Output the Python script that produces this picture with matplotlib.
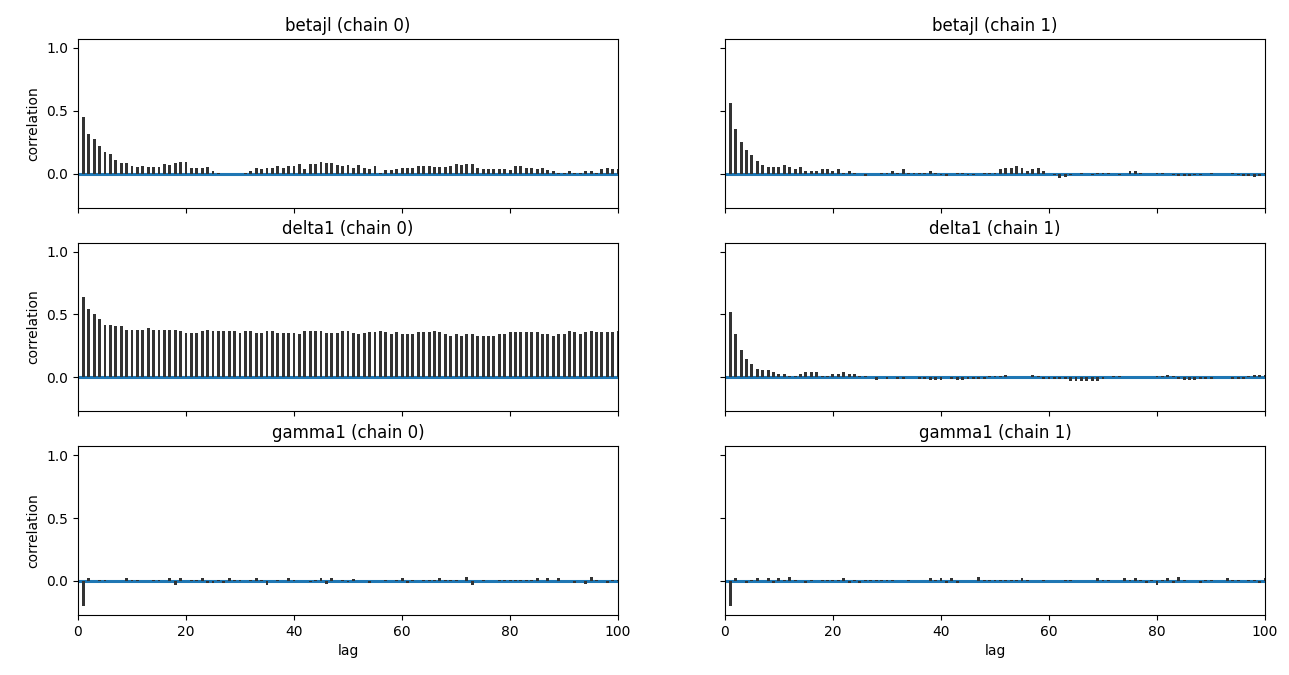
import numpy as np
import matplotlib
matplotlib.use("Agg")
import matplotlib.pyplot as plt

# autocorrelation per lag (lags 1..100)
lags = np.arange(1, 101)

betajl_c0 = [0.45, 0.32, 0.28, 0.225, 0.17, 0.155, 0.11, 0.085, 0.085, 0.065,
             0.055, 0.065, 0.055, 0.055, 0.055, 0.08, 0.07, 0.085, 0.095, 0.095,
             0.045, 0.045, 0.045, 0.055, 0.025, 0.01, 0.0, 0.0, 0.0, 0.0,
             0.01, 0.025, 0.05, 0.035, 0.05, 0.05, 0.06, 0.05, 0.065, 0.065,
             0.08, 0.04, 0.08, 0.08, 0.095, 0.085, 0.085, 0.07, 0.06, 0.07,
             0.05, 0.07, 0.05, 0.04, 0.06, 0.01, 0.03, 0.03, 0.04, 0.05,
             0.05, 0.05, 0.065, 0.065, 0.065, 0.055, 0.055, 0.055, 0.06, 0.08,
             0.07, 0.08, 0.08, 0.045, 0.04, 0.04, 0.04, 0.04, 0.04, 0.03,
             0.06, 0.06, 0.05, 0.05, 0.04, 0.045, 0.03, 0.02, 0.01, 0.01,
             0.02, 0.01, 0.01, 0.02, 0.02, 0.01, 0.04, 0.045, 0.04, 0.04]

betajl_c1 = [0.56, 0.36, 0.25, 0.19, 0.15, 0.10, 0.07, 0.055, 0.055, 0.055,
             0.07, 0.055, 0.04, 0.055, 0.025, 0.025, 0.025, 0.04, 0.04, 0.025,
             0.04, 0.01, 0.025, 0.01, 0.0, -0.015, 0.0, 0.0, 0.01, 0.01,
             0.025, 0.01, 0.04, 0.01, 0.01, 0.01, 0.01, 0.025, 0.01, -0.01,
             -0.015, 0.0, 0.01, 0.01, -0.01, -0.01, 0.0, 0.01, 0.01, 0.01,
             0.035, 0.045, 0.05, 0.065, 0.05, 0.025, 0.04, 0.05, 0.025, 0.0,
             -0.01, -0.03, -0.025, -0.01, 0.0, 0.01, 0.0, -0.01, 0.01, 0.01,
             0.01, 0.0, -0.01, 0.0, 0.025, 0.025, 0.01, 0.0, 0.0, 0.01,
             0.01, 0.0, -0.01, -0.02, -0.02, -0.02, -0.01, -0.01, 0.0, 0.01,
             0.0, 0.0, 0.0, 0.01, -0.01, -0.02, -0.02, -0.025, -0.015, 0.01]

delta1_c0 = [0.64, 0.545, 0.505, 0.465, 0.42, 0.42, 0.41, 0.41, 0.38, 0.38,
             0.38, 0.38, 0.395, 0.38, 0.38, 0.38, 0.38, 0.38, 0.37, 0.355,
             0.355, 0.355, 0.37, 0.38, 0.37, 0.37, 0.37, 0.37, 0.37, 0.355,
             0.37, 0.37, 0.355, 0.355, 0.37, 0.37, 0.355, 0.355, 0.355, 0.355,
             0.345, 0.37, 0.37, 0.37, 0.37, 0.355, 0.355, 0.355, 0.37, 0.37,
             0.35, 0.345, 0.35, 0.358, 0.358, 0.371, 0.358, 0.345, 0.358, 0.345,
             0.345, 0.345, 0.358, 0.358, 0.358, 0.371, 0.358, 0.345, 0.332, 0.345,
             0.332, 0.345, 0.345, 0.332, 0.332, 0.332, 0.332, 0.345, 0.345, 0.358,
             0.358, 0.358, 0.358, 0.358, 0.358, 0.345, 0.345, 0.332, 0.345, 0.345,
             0.371, 0.358, 0.345, 0.358, 0.371, 0.358, 0.358, 0.358, 0.358, 0.37]

delta1_c1 = [0.52, 0.345, 0.216, 0.15, 0.108, 0.07, 0.057, 0.057, 0.04, 0.028,
             0.028, 0.01, 0.01, 0.028, 0.04, 0.04, 0.04, 0.01, 0.01, 0.028,
             0.028, 0.04, 0.028, 0.028, 0.01, 0.01, 0.0, -0.02, 0.0, -0.01,
             0.0, -0.01, -0.01, 0.0, 0.0, -0.01, -0.01, -0.02, -0.02, -0.02,
             0.0, -0.01, -0.02, -0.02, -0.01, -0.01, -0.01, -0.01, 0.01, 0.01,
             0.01, 0.022, 0.0, 0.0, 0.0, 0.0, 0.022, 0.01, -0.012, -0.012,
             -0.012, -0.012, -0.012, -0.03, -0.03, -0.03, -0.03, -0.03, -0.03, -0.012,
             0.0, 0.01, 0.01, 0.0, 0.0, 0.0, 0.0, 0.0, 0.0, 0.01,
             0.01, 0.022, 0.01, -0.01, -0.018, -0.018, -0.018, -0.01, -0.01, -0.01,
             0.0, 0.0, 0.0, -0.01, -0.01, -0.01, 0.01, 0.022, 0.022, 0.022]

gamma1_c0 = [-0.2, 0.02, 0.0, 0.01, 0.01, 0.0, 0.0, 0.0, 0.02, 0.01,
             0.01, 0.0, 0.0, 0.01, 0.01, 0.0, 0.02, -0.03, 0.02, 0.0,
             0.01, 0.01, 0.02, -0.02, -0.02, 0.01, -0.02, 0.02, 0.01, 0.01,
             0.0, 0.01, 0.02, 0.01, -0.03, 0.0, 0.01, 0.0, 0.02, 0.01,
             0.0, 0.0, -0.012, 0.01, 0.02, -0.025, 0.02, 0.0, 0.01, -0.012,
             0.015, 0.0, 0.0, -0.015, 0.0, 0.0, 0.01, 0.0, 0.01, 0.02,
             -0.015, 0.01, 0.0, 0.01, 0.01, 0.01, 0.02, 0.01, 0.01, 0.01,
             0.0, 0.035, -0.03, 0.0, 0.01, 0.0, 0.0, 0.01, 0.01, 0.01,
             0.01, 0.01, 0.01, 0.01, 0.02, 0.0, 0.02, 0.0, 0.02, 0.0,
             0.0, -0.015, 0.0, -0.025, 0.035, 0.01, 0.0, -0.015, 0.01, 0.01]

gamma1_c1 = [-0.2, 0.02, 0.0, -0.015, 0.01, 0.02, 0.0, 0.02, -0.015, 0.02,
             0.01, 0.035, 0.01, 0.0, -0.015, 0.01, 0.0, 0.01, 0.01, 0.01,
             0.01, 0.02, -0.015, 0.01, -0.015, 0.01, 0.01, 0.01, 0.01, 0.01,
             0.01, 0.0, 0.0, 0.01, 0.0, 0.0, 0.0, 0.02, 0.01, 0.02,
             -0.015, 0.02, -0.015, 0.0, 0.0, 0.0, 0.035, 0.01, 0.01, 0.01,
             0.01, 0.01, 0.01, 0.01, 0.02, 0.01, 0.0, 0.0, 0.01, 0.0,
             0.0, 0.0, 0.01, 0.01, 0.0, 0.0, 0.0, 0.0, 0.02, 0.01,
             0.01, 0.0, 0.0, 0.02, 0.01, 0.02, 0.01, -0.015, 0.01, -0.03,
             0.01, 0.02, -0.015, 0.035, 0.01, 0.0, 0.0, -0.015, 0.01, 0.01,
             0.0, 0.0, 0.02, 0.01, 0.01, 0.0, 0.01, 0.01, -0.015, 0.02]

var_names = ["betajl", "delta1", "gamma1"]
series = [[betajl_c0, betajl_c1],
          [delta1_c0, delta1_c1],
          [gamma1_c0, gamma1_c1]]

fig, axes = plt.subplots(3, 2, sharex=True, sharey=True, figsize=(12.89, 6.75), dpi=100)
fig.subplots_adjust(left=0.0605, right=0.9814, top=0.942, bottom=0.089,
                    wspace=0.198, hspace=0.207)

for row, name in enumerate(var_names):
    for chain in range(2):
        ax = axes[row, chain]
        ax.axhline(0, color="#1f77b4", lw=2.2, zorder=2)
        ax.bar(lags, series[row][chain], width=0.55, color="#333333", zorder=3)
        ax.set_title(f"{name} (chain {chain})", fontsize=12)
        if chain == 0:
            ax.set_ylabel("correlation")
        if row == 2:
            ax.set_xlabel("lag")

axes[0, 0].set_xlim(0, 100)
axes[0, 0].set_ylim(-0.27, 1.07)
axes[0, 0].set_yticks([0.0, 0.5, 1.0])

fig.savefig("out.png", dpi=100)
